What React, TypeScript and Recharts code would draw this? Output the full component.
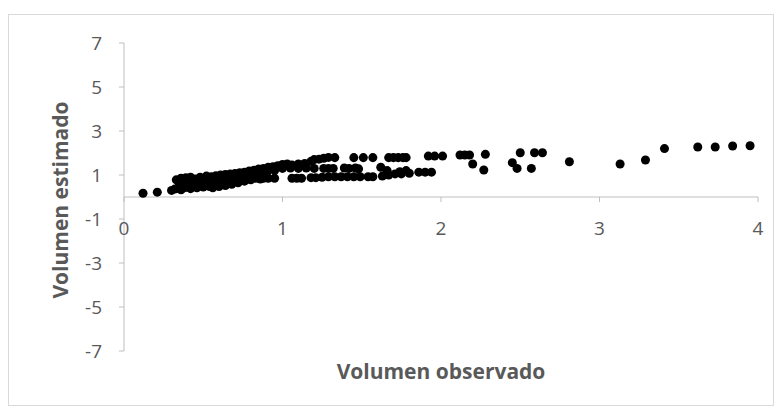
import { ReferenceLine, Scatter, ScatterChart, XAxis, YAxis, ZAxis } from 'recharts';

const COLORS = {
  text: '#595959',
  axis: '#bfbfbf',
  frame: '#d9d9d9',
  dot: '#000000',
};

const FONT = '"Open Sans", sans-serif';

// escala de los ejes
const xTicks = [0, 1, 2, 3, 4];
const yTicks = [-7, -5, -3, -1, 1, 3, 5, 7];
const Y_MIN = -7;
const Y_MAX = 7;

// nube densa, banda inferior
const bandaInferior: [number, number][] = [
  [0.12, 0.17], [0.21, 0.22], [0.3, 0.3], [0.32, 0.36], [0.34, 0.4], [0.36, 0.33], [0.38, 0.42],
  [0.4, 0.45], [0.42, 0.38], [0.44, 0.5], [0.46, 0.42], [0.48, 0.55], [0.5, 0.45], [0.52, 0.55],
  [0.54, 0.48], [0.56, 0.42], [0.58, 0.58], [0.6, 0.48], [0.62, 0.6], [0.64, 0.52], [0.66, 0.65],
  [0.68, 0.58], [0.7, 0.7], [0.72, 0.65], [0.74, 0.78], [0.76, 0.72], [0.78, 0.82], [0.8, 0.78],
  [0.83, 0.85], [0.86, 0.82], [0.88, 0.85], [0.91, 0.85], [0.95, 0.85],
];

// nube densa, banda media
const bandaMedia: [number, number][] = [
  [0.35, 0.6], [0.4, 0.7], [0.45, 0.65], [0.5, 0.75], [0.55, 0.8], [0.6, 0.8], [0.65, 0.85],
  [0.7, 0.9], [0.75, 0.95], [0.8, 1.0], [0.85, 1.05], [0.9, 1.1], [0.95, 1.2], [1.0, 1.3],
  [1.05, 1.32], [1.1, 1.3], [1.15, 1.32], [1.2, 1.3], [1.26, 1.3], [1.29, 1.3], [1.32, 1.3],
  [1.39, 1.32], [1.42, 1.3], [1.46, 1.32], [1.48, 1.28],
];

// nube densa, banda superior
const bandaSuperior: [number, number][] = [
  [0.33, 0.78], [0.36, 0.85], [0.39, 0.88], [0.42, 0.9], [0.45, 0.82], [0.48, 0.9], [0.52, 0.95],
  [0.55, 0.92], [0.58, 0.97], [0.61, 1.0], [0.64, 1.02], [0.67, 1.05], [0.7, 1.07], [0.73, 1.1],
  [0.76, 1.13], [0.79, 1.18], [0.82, 1.22], [0.85, 1.27], [0.88, 1.3], [0.91, 1.35], [0.94, 1.38],
  [0.97, 1.42], [1.0, 1.48], [1.03, 1.5], [1.06, 1.45], [1.1, 1.5], [1.14, 1.52], [1.18, 1.62],
  [1.2, 1.7], [1.23, 1.72], [1.26, 1.76], [1.29, 1.8],
];

// filas hacia x = 1-2
const filas: [number, number][] = [
  [1.33, 1.79], [1.45, 1.79], [1.51, 1.79], [1.57, 1.79], [1.67, 1.79], [1.7, 1.79], [1.73, 1.79],
  [1.76, 1.79], [1.78, 1.79], [1.92, 1.86], [1.96, 1.86], [2.01, 1.86],
  [1.06, 0.85], [1.09, 0.85], [1.12, 0.85], [1.18, 0.88], [1.21, 0.88], [1.25, 0.9],
  [1.29, 0.92], [1.33, 0.92], [1.37, 0.92], [1.41, 0.92], [1.45, 0.92], [1.49, 0.92],
  [1.54, 0.92], [1.57, 0.92], [1.63, 0.95], [1.67, 1.0], [1.71, 1.05], [1.75, 1.05], [1.8, 1.08],
  [1.62, 1.35], [1.66, 1.2], [1.74, 1.15], [1.78, 1.2],
  [1.86, 1.13], [1.9, 1.13], [1.94, 1.13],
];

// puntos dispersos a la derecha
const cola: [number, number][] = [
  [2.12, 1.91], [2.15, 1.91], [2.18, 1.91], [2.28, 1.94], [2.2, 1.5], [2.27, 1.23],
  [2.45, 1.56], [2.48, 1.3], [2.5, 2.01], [2.57, 1.3], [2.59, 2.01], [2.64, 2.01],
  [2.81, 1.6], [3.13, 1.5], [3.29, 1.68], [3.41, 2.2], [3.62, 2.27], [3.73, 2.27],
  [3.84, 2.32], [3.95, 2.33],
];

const puntos = [...bandaInferior, ...bandaMedia, ...bandaSuperior, ...filas, ...cola].map(([observado, estimado]) => ({
  observado,
  estimado,
}));

const W = 781;
const H = 412;
const MARGIN = { top: 43, right: 23, bottom: 31, left: 60 };
const X_AXIS_H = 30;
const PLOT_H = H - MARGIN.top - MARGIN.bottom - X_AXIS_H;
const ZERO_SHIFT = (PLOT_H * (0 - Y_MIN)) / (Y_MAX - Y_MIN);

function XTick({ x, y, payload }: any) {
  const y0 = y - ZERO_SHIFT;
  return (
    <g>
      <line x1={x} y1={y0} x2={x} y2={y0 + 5} stroke={COLORS.axis} />
      <text x={x} y={y0 + 31} textAnchor="middle" dominantBaseline="central" fill={COLORS.text} fontSize={19} fontFamily={FONT}>
        {payload.value}
      </text>
    </g>
  );
}

function YTitle({ viewBox }: any) {
  const cx = viewBox.x;
  const cy = viewBox.y + viewBox.height / 2 + 3;
  return (
    <text
      x={cx}
      y={cy}
      transform={`rotate(-90 ${cx} ${cy})`}
      textAnchor="middle"
      dominantBaseline="central"
      fill={COLORS.text}
      fontSize={21}
      fontWeight="bold"
      fontFamily={FONT}
    >
      Volumen estimado
    </text>
  );
}

export default function App() {
  return (
    <div style={{ position: 'absolute', left: 0, top: 0, width: W, height: H, background: '#fff' }}>
      <div
        style={{
          position: 'absolute',
          left: 8,
          top: 14,
          width: 764,
          height: 390,
          border: `1px solid ${COLORS.frame}`,
        }}
      />
      <div style={{ position: 'absolute', left: 0, top: 0 }}>
        <ScatterChart width={W} height={H} margin={MARGIN}>
          <XAxis
            type="number"
            dataKey="observado"
            domain={[0, 4]}
            ticks={xTicks}
            height={X_AXIS_H}
            axisLine={false}
            tickLine={false}
            tickSize={0}
            tickMargin={0}
            tick={<XTick />}
            interval={0}
            label={{
              value: 'Volumen observado',
              position: 'insideBottom',
              offset: 2,
              fill: COLORS.text,
              fontSize: 21,
              fontWeight: 'bold',
              fontFamily: FONT,
            }}
          />
          <YAxis
            type="number"
            dataKey="estimado"
            domain={[Y_MIN, Y_MAX]}
            ticks={yTicks}
            width={64}
            interval={0}
            stroke={COLORS.axis}
            tickSize={5}
            tickMargin={17}
            tick={{ fill: COLORS.text, fontSize: 19, fontFamily: FONT }}
            label={<YTitle />}
          />
          <ZAxis range={[40, 40]} />
          <ReferenceLine y={0} stroke={COLORS.axis} />
          <Scatter data={puntos} fill={COLORS.dot} isAnimationActive={false} />
        </ScatterChart>
      </div>
    </div>
  );
}
